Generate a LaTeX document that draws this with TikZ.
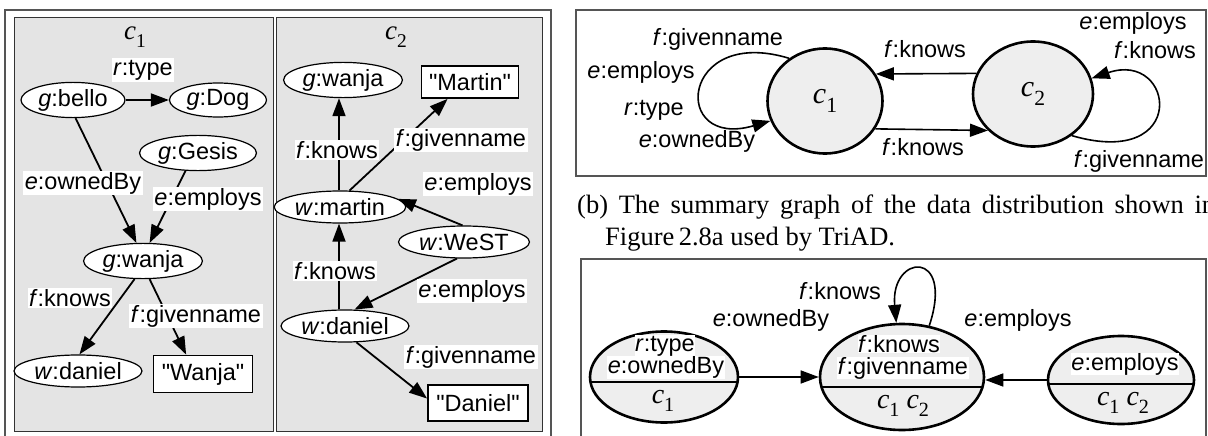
\documentclass[tikz,border=0pt]{standalone}
\usepackage{fontspec}
\usepackage{graphicx}
\setmainfont{Liberation Sans}
\newfontfamily\ser{Liberation Serif}
\usetikzlibrary{arrows.meta,shapes.geometric}
\definecolor{panelgray}{RGB}{228,228,228}
\definecolor{nodegray}{RGB}{238,238,238}
\definecolor{framegray}{RGB}{85,85,85}
% cluster name c with subscript
\newcommand\cn[1]{\textit{c}\raisebox{-0.28em}{\scalebox{0.72}{#1}}}
\newcommand\q[1]{\textquotedbl#1\textquotedbl}

\begin{document}
\begin{tikzpicture}[x=1pt,y=-1pt,
  lab/.style={font=\fontsize{23.5}{26}\selectfont, inner sep=1.5pt},
  lblw/.style={lab, fill=white},
  res/.style={ellipse, draw, fill=white, line width=1.2pt, minimum height=32pt, inner sep=0pt, lab},
  lit/.style={rectangle, draw, fill=white, line width=1.8pt, minimum height=34pt, inner sep=0pt, lab},
  edg/.style={line width=1.8pt, -{Triangle[length=18pt,width=13pt]}},
  edgb/.style={line width=1.6pt, -{Triangle[length=18pt,width=13pt]}},
  clus/.style={font=\ser\fontsize{27}{30}\selectfont, inner sep=0pt},
  frame/.style={draw=framegray, line width=1.4pt},
  panel/.style={draw=black!80, line width=1pt, fill=panelgray},
  part/.style={ellipse, draw, fill=nodegray, line width=2.6pt, inner sep=0pt},
  inlab/.style={lab, fill=white, inner sep=0.5pt},
  cnum/.style={font=\ser\fontsize{28}{30}\selectfont, inner sep=0pt},
  capt/.style={anchor=base west, inner sep=0pt, font=\ser\fontsize{26.5}{33}\selectfont}
]
\useasboundingbox (0,0) rectangle (1208,436);

% ---------- (a) data distribution ----------
\draw[frame] (5,10) rectangle (551,445);
\draw[panel] (14,18) rectangle (273,431);
\draw[panel] (276,18) rectangle (542,431);

\node[clus] (t1) at (135,37) {\cn{1}};
\node[clus] (t2) at (396,37) {\cn{2}};

% partition c1
\node[res, minimum width=104pt] (bello) at (73,100) {\textit{g}:bello};
\node[res, minimum width=97pt] (dog) at (218,100) {\textit{g}:Dog};
\node[res, minimum width=106pt] (gesis) at (198,153) {\textit{g}:Gesis};
\node[res, minimum width=112pt] (wanjaA) at (143,261) {\textit{g}:wanja};
\node[res, minimum width=120pt] (danielA) at (78,371) {\textit{w}:daniel};
\node[lit, minimum width=99pt, minimum height=37pt] (wanjaLit) at (203,374) {\q{Wanja}};

\draw[edg] (bello.east) -- (dog.west);
\draw[edg] (bello.-82) -- (wanjaA.110);
\draw[edg] (gesis.-125) -- (wanjaA.70);
\draw[edg] (wanjaA.-115) -- (danielA.85);
\draw[edg] (wanjaA.-70) -- (wanjaLit.131);

\node[lblw] (l1) at (143,70) {\textit{r}:type};
\node[lblw] (l2) at (83,183) {\textit{e}:ownedBy};
\node[lblw] (l3) at (208,199) {\textit{e}:employs};
\node[lblw] (l4) at (70,298) {\textit{f}:knows};
\node[lblw] (l5) at (196,316) {\textit{f}:givenname};

% partition c2
\node[res, minimum width=114pt] (wanjaB) at (343,80) {\textit{g}:wanja};
\node[lit, minimum width=97pt, minimum height=32pt] (martinLit) at (470,82) {\q{Martin}};
\node[res, minimum width=112pt] (martin) at (340,207) {\textit{w}:martin};
\node[res, minimum width=128pt] (west) at (464,242) {\textit{w}:WeST};
\node[res, minimum width=122pt] (danielB) at (345,326) {\textit{w}:daniel};
\node[lit, minimum width=100pt, minimum height=36pt] (danielLit) at (478,403) {\q{Daniel}};

\draw[edg] (martin.north -| 339,0) -- (wanjaB.south -| 339,0);
\draw[edg] (martin.60) -- (martinLit.-143);
\draw[edg] (west.95) -- (martin.8);
\draw[edg] (danielB.north -| 339,0) -- (martin.south -| 339,0);
\draw[edg] (west.-113) -- (danielB.60);
\draw[edg] (danielB.-55) -- (danielLit.175);

\node[lblw] (m1) at (337,150) {\textit{f}:knows};
\node[lblw] (m2) at (461,140) {\textit{f}:givenname};
\node[lblw] (m3) at (478,184) {\textit{e}:employs};
\node[lblw] (m4) at (335,271) {\textit{f}:knows};
\node[lblw] (m5) at (472,291) {\textit{e}:employs};
\node[lblw] (m6) at (471,357) {\textit{f}:givenname};

% ---------- (b) summary graph ----------
\draw[frame] (576,10) rectangle (1206,176);
\node[part, minimum width=115pt, minimum height=105pt, cnum, font=\ser\fontsize{30}{32}\selectfont] (C1) at (825,101) {\cn{1}};
\node[part, minimum width=120pt, minimum height=105pt, cnum, font=\ser\fontsize{30}{32}\selectfont] (C2) at (1033,94) {\cn{2}};

\draw[edgb] (C2.160) -- (C1.28.4);
\draw[edgb] (C1.-29.7) -- (C2.-141);
\draw[edgb] (C1.130) .. controls (680,25) and (670,150) .. (C1.200);
\draw[edgb] (C2.-47) .. controls (1190,170) and (1175,50) .. (C2.15);

\node[lab] (s1) at (718,39) {\textit{f}:givenname};
\node[lab] (s2) at (641,72) {\textit{e}:employs};
\node[lab] (s3) at (654,110) {\textit{r}:type};
\node[lab] (s4) at (697,141) {\textit{e}:ownedBy};
\node[lab] (s5) at (925,49) {\textit{f}:knows};
\node[lab] (s6) at (923,147) {\textit{f}:knows};
\node[lab] (s7) at (1133,23) {\textit{e}:employs};
\node[lab] (s8) at (1155,50) {\textit{f}:knows};
\node[lab] (s9) at (1139,161) {\textit{f}:givenname};

% caption
\node[capt] (cap1) at (577,213)
  {\makebox[638pt][s]{(b) The summary graph of the data distribution shown in}};
\node[capt] (cap2) at (605,245) {Figure\,2.8a used by TriAD.};

% ---------- (c) partition-level graph ----------
\draw[frame] (581,259) rectangle (1206,445);
\node[part, minimum width=148pt, minimum height=91pt] (L) at (664,377) {};
\node[part, minimum width=164pt, minimum height=106pt] (M) at (902,377) {};
\node[part, minimum width=146pt, minimum height=88pt] (R) at (1121,380) {};

\begin{scope}
  \clip (664,377) ellipse [x radius=74, y radius=45.5];
  \draw[line width=2.2pt] (580,382) -- (750,382);
\end{scope}
\begin{scope}
  \clip (902,377) ellipse [x radius=82, y radius=53];
  \draw[line width=2.2pt] (800,387) -- (1000,387);
\end{scope}
\begin{scope}
  \clip (1121,380) ellipse [x radius=73, y radius=44];
  \draw[line width=2.2pt] (1040,384) -- (1200,384);
\end{scope}

\node[inlab] (L1) at (665,346) {\textit{r}:type};
\node[inlab] (L2) at (666,367.5) {\textit{e}:ownedBy};
\node[cnum] (L3) at (663,401) {\cn{1}};
\node[inlab] (M1) at (899,344) {\textit{f}:knows};
\node[inlab] (M2) at (903,368) {\textit{f}:givenname};
\node[cnum] (M3) at (903,406) {\cn{1} \cn{2}};
\node[inlab] (R1) at (1125,364) {\textit{e}:employs};
\node[cnum] (R3) at (1123,403) {\cn{1} \cn{2}};

\draw[edgb] (L.east |- 0,377) -- (M.west |- 0,377);
\draw[edgb] (R.west |- 0,380) -- (M.east |- 0,380);
\draw[edgb] (M.62) .. controls (955,248) and (890,254) .. (M.96);

\node[lab] (b1) at (771,320) {\textit{e}:ownedBy};
\node[lab] (b2) at (1018,320) {\textit{e}:employs};
\node[lab] (b3) at (840,291) {\textit{f}:knows};
\end{tikzpicture}
\end{document}
